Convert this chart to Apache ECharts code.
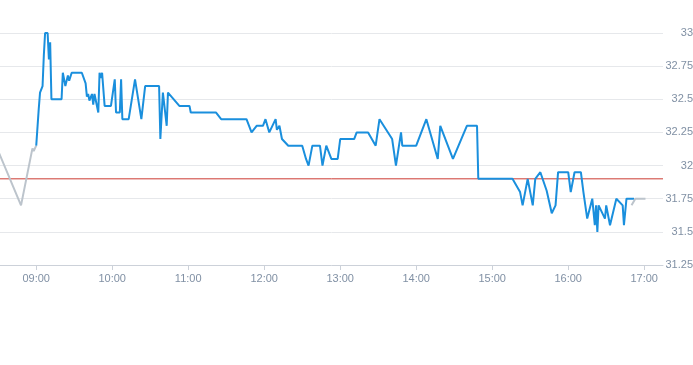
<!DOCTYPE html>
<html><head><meta charset="utf-8">
<script src="https://cdn.jsdelivr.net/npm/echarts@6/dist/echarts.min.js"></script>
<style>html,body{margin:0;padding:0;background:#fff}#c{width:693px;height:365px}</style>
</head><body><div id="c"></div>
<script>
const DAY = '2024-01-02 ';
const preTimes = ['08:30','08:48','08:57','08:58','09:00'];
const preValues = [32.11,31.70,32.13,32.11,32.15];
const mainTimes = ['09:00','09:02','09:03','09:05','09:06','09:07','09:09','09:10','09:11','09:12','09:20','09:21','09:23','09:25','09:26','09:28','09:36','09:39','09:40','09:41','09:42','09:44','09:45','09:46','09:49','09:50','09:51','09:52','09:54','09:59','10:02','10:03','10:06','10:07','10:08','10:13','10:18','10:23','10:26','10:37','10:38','10:40','10:43','10:44','10:53','11:01','11:02','11:22','11:26','11:46','11:50','11:54','11:59','12:01','12:04','12:09','12:10','12:12','12:14','12:19','12:30','12:33','12:35','12:38','12:44','12:46','12:49','12:53','12:58','13:00','13:11','13:13','13:22','13:28','13:31','13:41','13:44','13:48','13:49','14:00','14:08','14:17','14:19','14:29','14:40','14:48','14:49','15:16','15:22','15:24','15:28','15:32','15:34','15:38','15:43','15:47','15:50','15:52','16:00','16:02','16:05','16:10','16:12','16:15','16:19','16:21','16:22','16:23','16:24','16:25','16:29','16:30','16:33','16:38','16:43','16:44','16:46','16:52'];
const mainValues = [32.15,32.43,32.55,32.6,32.83,33.0,33.0,32.8,32.93,32.5,32.5,32.7,32.6,32.68,32.64,32.7,32.7,32.62,32.52,32.54,32.49,32.54,32.46,32.54,32.4,32.7,32.66,32.7,32.45,32.45,32.65,32.4,32.4,32.65,32.35,32.35,32.65,32.35,32.6,32.6,32.2,32.55,32.3,32.55,32.45,32.45,32.4,32.4,32.35,32.35,32.25,32.3,32.3,32.35,32.25,32.35,32.27,32.3,32.2,32.15,32.15,32.05,32.0,32.15,32.15,32.0,32.15,32.05,32.05,32.2,32.2,32.25,32.25,32.15,32.35,32.2,32.0,32.25,32.15,32.15,32.35,32.05,32.3,32.05,32.3,32.3,31.9,31.9,31.8,31.7,31.9,31.7,31.9,31.95,31.81,31.64,31.7,31.95,31.95,31.8,31.95,31.95,31.8,31.6,31.75,31.55,31.7,31.5,31.7,31.7,31.6,31.7,31.55,31.75,31.7,31.55,31.75,31.75];
const postTimes = ['16:50','16:53','17:01'];
const postValues = [31.70,31.75,31.75];
const prevClose = 31.9;
const axisStart = '08:31:24', axisEnd = '17:14:50';
const yTicks = [31.25,31.5,31.75,32,32.25,32.5,32.75,33];

const pair = (ts, vs) => ts.map((t,i)=>[DAY+t, vs[i]]);
const chart = echarts.init(document.getElementById('c'));
const labelColor = '#8090a4';
const RED = '#cc3a32';
chart.setOption({
  animation:false,
  grid:{left:0,right:30,top:33,bottom:100,containLabel:false,outerBoundsMode:'none'},
  xAxis:{type:'time',min:DAY+axisStart,max:DAY+axisEnd,
    minInterval:3600000,maxInterval:3600000,
    axisLine:{lineStyle:{color:'#ccd1d9'}},
    axisTick:{show:true,length:5,lineStyle:{color:'#ccd1d9'}},
    splitLine:{show:false},
    axisLabel:{color:labelColor,fontSize:11,fontFamily:'Arial',margin:8,showMinLabel:false,showMaxLabel:false,
      formatter:v=>{const d=new Date(v);return String(d.getHours()).padStart(2,'0')+':'+String(d.getMinutes()).padStart(2,'0');}}},
  yAxis:{type:'value',position:'right',min:yTicks[0],max:yTicks[yTicks.length-1],interval:0.25,
    axisLine:{show:false},axisTick:{show:false},
    splitLine:{lineStyle:{color:'#e6e8eb'}},
    axisLabel:{color:labelColor,fontSize:11,fontFamily:'Arial',align:'right',margin:30,
      formatter:v=>String(+v.toFixed(2))}},
  series:[
    {type:'line',data:pair([axisStart,axisEnd],[prevClose,prevClose]),symbol:'none',lineStyle:{color:RED,width:1},itemStyle:{color:RED},z:1},
    {type:'line',data:pair(preTimes,preValues),symbol:'none',lineStyle:{color:'#bcc4cc',width:2},itemStyle:{color:'#bcc4cc'},z:2},
    {type:'line',data:pair(mainTimes,mainValues),symbol:'none',lineStyle:{color:'#1a8fdd',width:2},itemStyle:{color:'#1a8fdd'},z:3},
    {type:'line',data:pair(postTimes,postValues),symbol:'none',lineStyle:{color:'#bcc4cc',width:2},itemStyle:{color:'#bcc4cc'},z:4}
  ]
});
</script></body></html>
